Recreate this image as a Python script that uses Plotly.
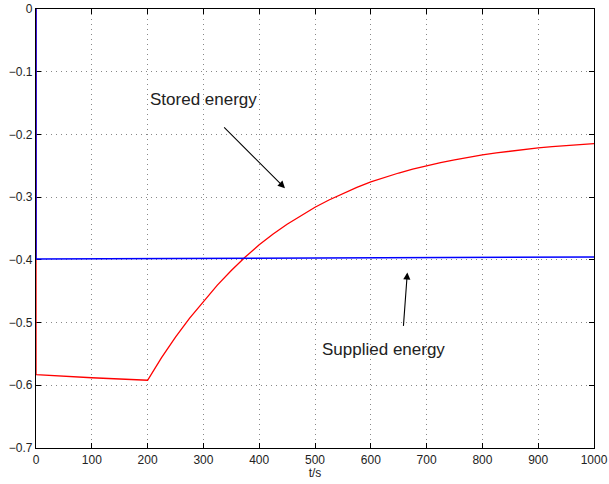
import plotly.graph_objects as go

# Stored energy (red)
stored_t = [0, 0, 100, 200, 225, 250, 275, 300, 325, 350, 375, 400, 425, 450, 475,
            500, 525, 550, 575, 600, 625, 650, 675, 700, 725, 750, 775, 800, 825,
            850, 875, 900, 925, 950, 975, 1000]
stored_e = [0.0, -0.583, -0.588, -0.592, -0.556, -0.5232, -0.4933, -0.466, -0.4403,
            -0.4169, -0.3955, -0.376, -0.3589, -0.3433, -0.3291, -0.3161, -0.3045,
            -0.294, -0.2844, -0.2756, -0.2682, -0.2615, -0.2553, -0.2497, -0.2448,
            -0.2404, -0.2363, -0.2326, -0.2294, -0.2265, -0.2239, -0.2215, -0.2195,
            -0.2177, -0.2161, -0.2146]

# Supplied energy (blue)
supplied_t = [0, 0, 250, 500, 750, 1000]
supplied_e = [0.0, -0.3988, -0.398, -0.397, -0.396, -0.3955]

x_ticks = [0, 100, 200, 300, 400, 500, 600, 700, 800, 900, 1000]
y_ticks = [0, -0.1, -0.2, -0.3, -0.4, -0.5, -0.6, -0.7]
y_labels = ["0", "\u22120.1", "\u22120.2", "\u22120.3", "\u22120.4", "\u22120.5", "\u22120.6", "\u22120.7"]

FONT = "Liberation Sans, Arial, Helvetica, sans-serif"

fig = go.Figure()
fig.add_trace(go.Scatter(x=stored_t, y=stored_e, mode="lines",
                         line=dict(color="#ff0000", width=1.3), name="Stored energy"))
fig.add_trace(go.Scatter(x=supplied_t, y=supplied_e, mode="lines",
                         line=dict(color="#0000ff", width=1.5), name="Supplied energy"))

axis_common = dict(showline=True, linecolor="black", linewidth=1.2, mirror="ticks",
                   ticks="inside", ticklen=5, tickcolor="black", tickwidth=1,
                   showgrid=True, gridcolor="#888888", griddash="1px,4px", gridwidth=1,
                   zeroline=False, layer="below traces", automargin=False,
                   tickfont=dict(family=FONT, size=12, color="#222222"))

fig.update_xaxes(range=[0, 1000], tickvals=x_ticks, **axis_common,
                 title=dict(text="t/s", font=dict(family=FONT, size=12, color="#222222"), standoff=2))
fig.update_yaxes(range=[-0.7, 0], tickvals=y_ticks, ticktext=y_labels, **axis_common)

fig.add_annotation(x=301, y=-0.145, text="Stored energy", showarrow=False,
                   font=dict(family=FONT, size=17, color="#222222"))
fig.add_annotation(x=446.2, y=-0.2857, ax=334.5, ay=-0.1865, axref="x", ayref="y",
                   text="", showarrow=True, arrowhead=2, arrowsize=1.3, arrowwidth=1.1,
                   arrowcolor="black")
fig.add_annotation(x=622, y=-0.543, text="Supplied energy", showarrow=False,
                   font=dict(family=FONT, size=17, color="#222222"))
fig.add_annotation(x=665.5, y=-0.42, ax=658.3, ay=-0.5076, axref="x", ayref="y",
                   text="", showarrow=True, arrowhead=2, arrowsize=1.3, arrowwidth=1.1,
                   arrowcolor="black")

fig.update_layout(width=609, height=484, margin=dict(l=36, r=15, t=9, b=36),
                  paper_bgcolor="white", plot_bgcolor="white", showlegend=False,
                  font=dict(family=FONT))

fig.write_html("out.html", config={"displayModeBar": False},
               post_script="document.body.style.margin='0';document.body.style.padding='0';")
